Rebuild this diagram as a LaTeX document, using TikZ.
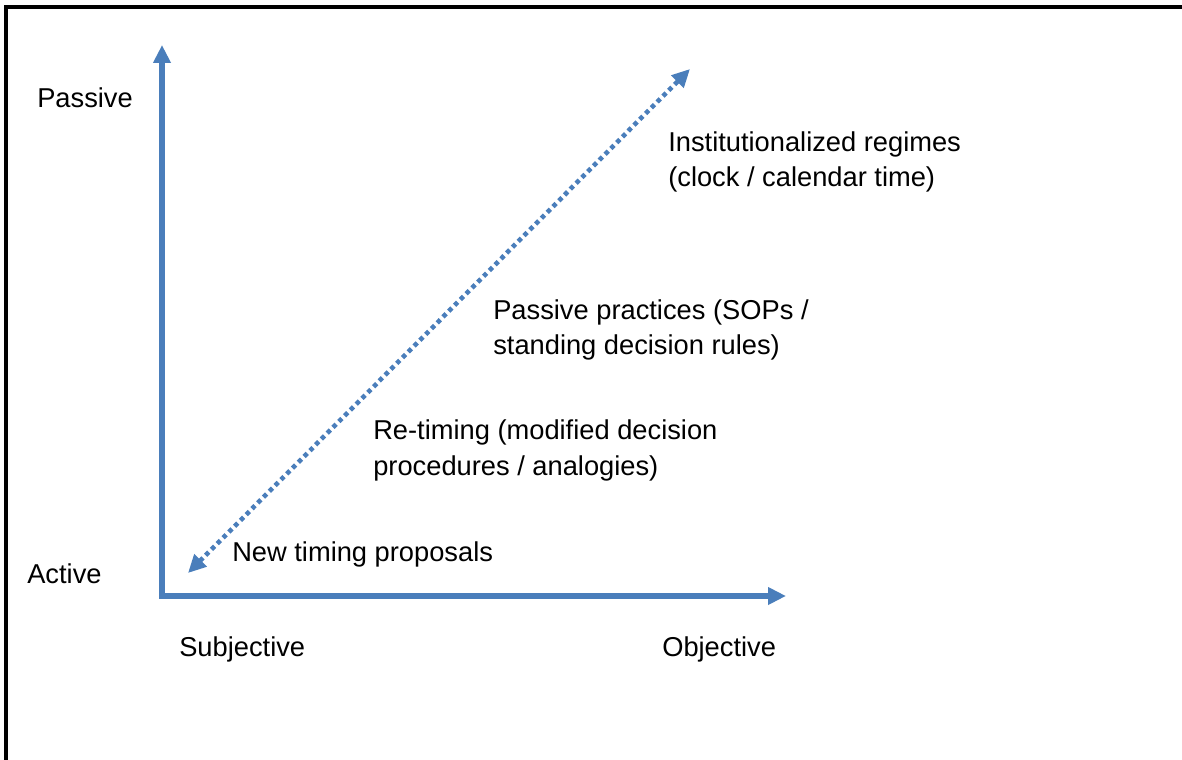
\documentclass[tikz,border=0pt]{standalone}
\usepackage{fontspec}
\setmainfont{Liberation Sans}
\usetikzlibrary{arrows.meta,positioning}
\definecolor{AxisBlue}{HTML}{4A7EBB}

\begin{document}
\begin{tikzpicture}[x=0.025cm,y=-0.025cm,
      axis/.style={line width=0.13cm,draw=AxisBlue,line join=miter,
                   {Triangle[length=0.45cm,width=0.42cm]}-{Triangle[length=0.45cm,width=0.42cm]}},
      dotline/.style={line width=0.115cm,draw=AxisBlue,dash pattern=on 0.11cm off 0.095cm,
                    {Triangle[length=0.45cm,width=0.42cm]}-{Triangle[length=0.45cm,width=0.42cm]}},
      lab/.style={font=\fontsize{19.4}{24.9}\selectfont,inner sep=0pt,
                  anchor=base west,align=left}]
    \useasboundingbox (0,0) rectangle (1182,760);
    % frame, only top and left edge on the page
    \draw[line width=2.2pt] (6,760) -- (6,7) -- (1182,7);

    % axes and the diagonal scale
    \coordinate (origin) at (162,596);
    \coordinate (ytip)   at (162,45);
    \coordinate (xtip)   at (786,596);
    \coordinate (low)    at (188,573);
    \coordinate (high)   at (690,69);
    \draw[axis]    (ytip) -- (origin) -- (xtip);
    \draw[dotline] (low) -- (high);

    % axis ends
    \node[lab] (passive) at (37,108)  {Passive};
    \node[lab] (active)  at (27,583)  {Active};
    \node[lab] (subj)    at (179,656) {Subjective};
    \node[lab] (obj)     at (662,656) {Objective};

    % steps along the scale (base = last line)
    \node[lab] (inst)   at (668,187) {Institutionalized regimes\\(clock / calendar time)};
    \node[lab] (pass)   at (493,355) {Passive practices (SOPs /\\standing decision rules)};
    \node[lab] (retime) at (373,475) {Re-timing (modified decision\\procedures / analogies)};
    \node[lab] (new)    at (232,561) {New timing proposals};
  \end{tikzpicture}
\end{document}
